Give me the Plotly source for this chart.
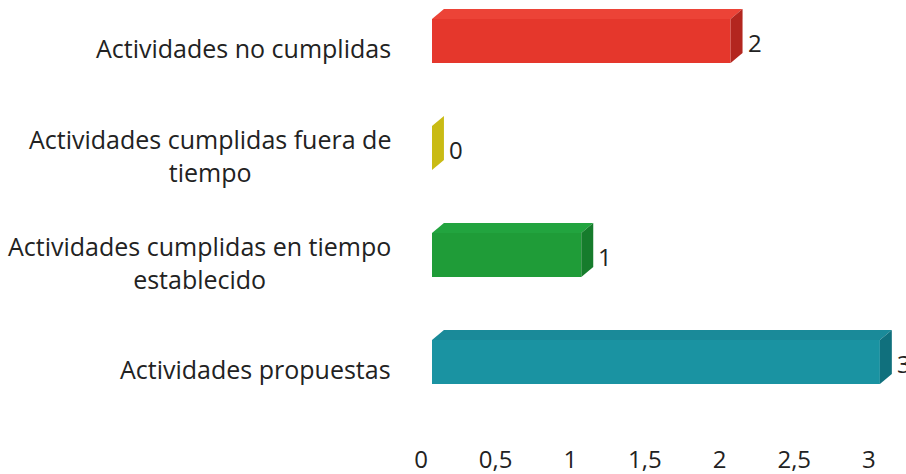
import plotly.graph_objects as go

categories = [
    "Actividades propuestas",
    "Actividades cumplidas en tiempo<br>establecido",
    "Actividades cumplidas fuera de<br>tiempo",
    "Actividades no cumplidas",
]
values = [3, 1, 0, 2]
front_colors = ["#1A93A2", "#1F9C38", "#E2D21F", "#E5372C"]
top_colors = ["#1A8A99", "#22A43F", "#EADB2C", "#EC4337"]
side_colors = ["#10707D", "#167C2C", "#C9BB14", "#B3261F"]
x_ticks = [0, 0.5, 1, 1.5, 2, 2.5, 3]
x_tick_labels = ["0", "0,5", "1", "1,5", "2", "2,5", "3"]

FONT = "Open Sans"
TXT = "#222222"
half = 0.205      # half bar thickness (category units)
dx = 0.08         # 3D depth, x units
dy = 0.093        # 3D depth, category units

fig = go.Figure()

for i, (cat, v) in enumerate(zip(categories, values)):
    c = i
    # front face
    fig.add_trace(go.Bar(
        x=[v], y=[c], orientation="h", width=2 * half,
        marker=dict(color=front_colors[i], line=dict(width=0)),
        hoverinfo="skip", showlegend=False,
    ))
    # top face
    fig.add_trace(go.Scatter(
        x=[0, v, v + dx, dx, 0],
        y=[c + half, c + half, c + half + dy, c + half + dy, c + half],
        fill="toself", fillcolor=top_colors[i], mode="lines",
        line=dict(width=0, color=top_colors[i]),
        hoverinfo="skip", showlegend=False,
    ))
    # side face
    fig.add_trace(go.Scatter(
        x=[v, v, v + dx, v + dx, v],
        y=[c - half, c + half, c + half + dy, c - half + dy, c - half],
        fill="toself", fillcolor=side_colors[i], mode="lines",
        line=dict(width=0, color=side_colors[i]),
        hoverinfo="skip", showlegend=False,
    ))
    # value label
    fig.add_annotation(
        x=v + dx, y=c, xref="x", yref="y", text=str(v), showarrow=False,
        xanchor="left", yanchor="middle", xshift=3, yshift=-1,
        font=dict(family=FONT, size=24, color=TXT),
    )
    # category label (centered multi-line, right edge near the axis)
    fig.add_annotation(
        x=-39 / 474, y=c, xref="paper", yref="y", text=cat, showarrow=False,
        xanchor="right", yanchor="middle", align="center", yshift=-7,
        font=dict(family=FONT, size=25, color=TXT),
    )

fig.update_layout(
    width=906, height=474,
    margin=dict(l=432, r=0, t=0, b=32),
    plot_bgcolor="white", paper_bgcolor="white",
    barmode="overlay",
    font=dict(family=FONT, size=24, color=TXT),
)
fig.update_xaxes(
    range=[0, 474 / 149.3],
    tickvals=x_ticks, ticktext=x_tick_labels, tickangle=0,
    showgrid=False, zeroline=False, showline=False, ticks="",
    tickfont=dict(family=FONT, size=24, color=TXT),
    ticklabelshift=-11, ticklabelstandoff=1, automargin=False,
)
fig.update_yaxes(
    range=[-(442 - 362) / 107, 3 + 41 / 107],
    tickvals=list(range(len(categories))), showticklabels=False,
    showgrid=False, zeroline=False, showline=False, ticks="",
    automargin=False,
)

fig.write_html("out.html", config={"displayModeBar": False},
               post_script="document.body.style.margin='0';")
